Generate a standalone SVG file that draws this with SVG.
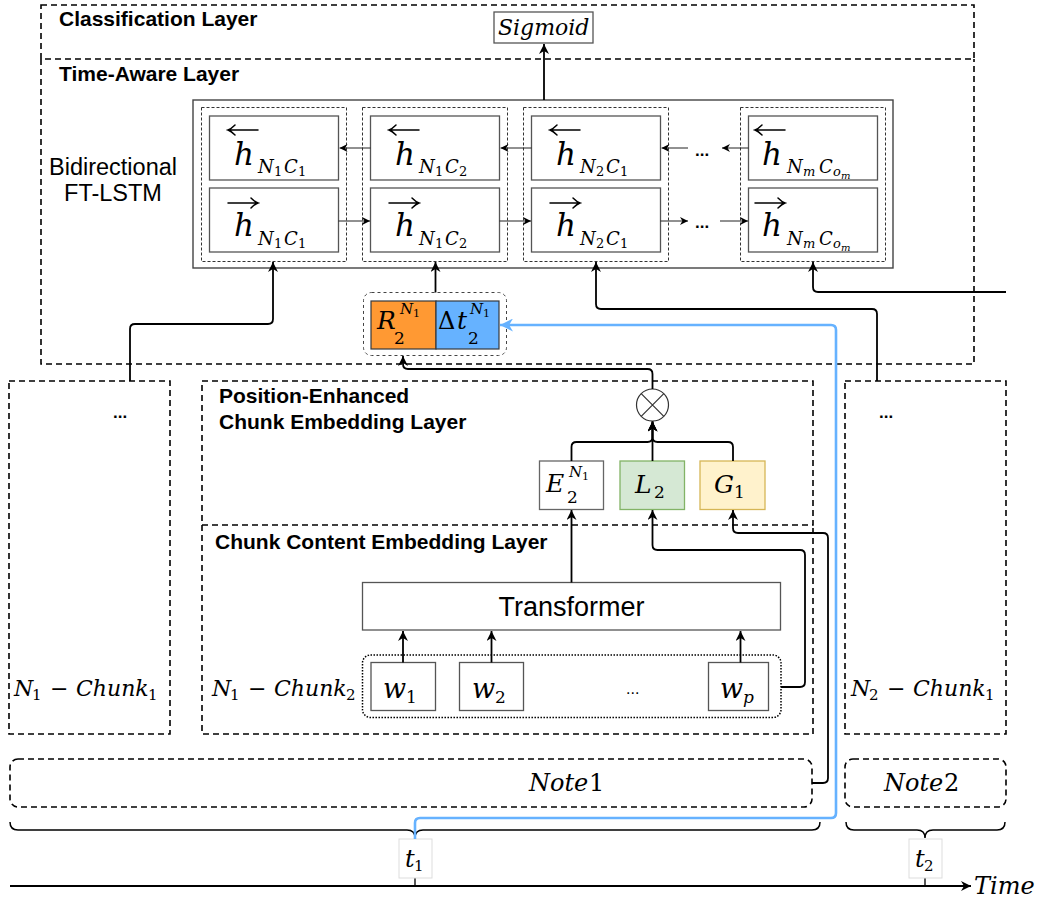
<svg xmlns="http://www.w3.org/2000/svg" width="1041" height="905" viewBox="0 0 1041 905">
<style>
  .layer { fill: none; stroke: #000; stroke-width: 1.6; stroke-dasharray: 6 4; }
  .grp { fill: none; stroke: #333; stroke-width: 1; stroke-dasharray: 3 2; }
  .cell { fill: #fff; stroke: #555; stroke-width: 1.3; }
  .box { fill: #fff; stroke: #555; stroke-width: 1.3; }
  .ttl { font-family: "Liberation Sans", Arial, sans-serif; font-weight: bold; font-size: 21px; fill: #000; }
  .sans { font-family: "Liberation Sans", Arial, sans-serif; fill: #000; }
  .m { font-family: "DejaVu Serif", "Liberation Serif", serif; font-style: italic; fill: #000; }
  .rm { font-family: "DejaVu Serif", "Liberation Serif", serif; font-style: normal; fill: #000; }
  .dots { font-family: "Liberation Sans", Arial, sans-serif; font-weight: bold; font-size: 17px; fill: #000; }
  .conn { fill: none; stroke: #000; stroke-width: 1.8; }
  .thin { fill: none; stroke: #222; stroke-width: 1; }
  .ovr { fill: none; stroke: #000; stroke-width: 1.5; stroke-linecap: round; }
  .blue { fill: none; stroke: #66B2FF; stroke-width: 2.6; }
</style>
<defs>
  <marker id="arr" viewBox="0 0 10 10" refX="10" refY="5" markerWidth="10" markerHeight="10" markerUnits="userSpaceOnUse" orient="auto">
    <path d="M0,0 L10,5 L0,10 L3,5 Z" fill="#000"/>
  </marker>
  <marker id="arrS" viewBox="0 0 10 10" refX="10" refY="5" markerWidth="8" markerHeight="8" markerUnits="userSpaceOnUse" orient="auto">
    <path d="M0,0 L10,5 L0,10 L3,5 Z" fill="#000"/>
  </marker>
  <marker id="arrB" viewBox="0 0 10 10" refX="10" refY="5" markerWidth="13" markerHeight="13" markerUnits="userSpaceOnUse" orient="auto">
    <path d="M0,0 L10,5 L0,10 L3,5 Z" fill="#66B2FF"/>
  </marker>
</defs>
<rect width="1041" height="905" fill="#fff"/>

<!-- layer frames (shared edges drawn once) -->
<g id="classification-layer">
  <rect class="layer" x="41" y="5" width="933" height="54"/>
  <text class="ttl" x="59" y="26">Classification Layer</text>
</g>
<g id="time-aware-layer">
  <path class="layer" d="M41,59 V364 H974 V59"/>
  <text class="ttl" x="59" y="81">Time-Aware Layer</text>
  <text class="sans" font-size="23.5" text-anchor="middle" x="113" y="175">Bidirectional</text>
  <text class="sans" font-size="23.5" text-anchor="middle" x="113" y="201">FT-LSTM</text>
</g>
<g id="position-enhanced-layer">
  <rect class="layer" x="202" y="381" width="611" height="144"/>
  <text class="ttl" x="219" y="403">Position-Enhanced</text>
  <text class="ttl" x="219" y="429">Chunk Embedding Layer</text>
</g>
<g id="chunk-content-layer">
  <path class="layer" d="M202,525 V734 H813 V525"/>
  <text class="ttl" x="215" y="549">Chunk Content Embedding Layer</text>
</g>

<!-- sigmoid -->
<g id="sigmoid">
  <rect class="box" x="494" y="12" width="99" height="31"/>
  <text class="m" font-size="22" x="498" y="35">Sigmoid</text>
</g>

<!-- FT-LSTM block -->
<g id="ft-lstm">
  <rect x="193" y="100" width="700" height="168" fill="#fff" stroke="#444" stroke-width="1.4"/>
  <rect class="grp" x="201.5" y="107.5" width="145" height="154"/>
  <rect class="grp" x="362.5" y="107.5" width="145" height="154"/>
  <rect class="grp" x="523.5" y="107.5" width="145" height="154"/>
  <rect class="grp" x="740.5" y="107.5" width="145" height="154"/>
</g>

<g id="cell-b-n1c1">
  <rect class="cell" x="209.5" y="116" width="129" height="64"/>
  <path class="ovr" d="M228,130 H258 M235,125 Q231,129 228,130 Q231,131 235,135"/>
  <text class="m" font-size="31" x="234" y="165">h</text>
  <text class="m" font-size="18" x="258" y="173">N</text><text class="rm" font-size="13" x="274" y="176">1</text>
  <text class="m" font-size="18" x="284" y="173">C</text><text class="rm" font-size="13" x="298" y="176">1</text>
</g>
<g id="cell-f-n1c1">
  <rect class="cell" x="209.5" y="188" width="129" height="64"/>
  <path class="ovr" d="M228,203 H258 M251,198 Q255,202 258,203 Q255,204 251,208"/>
  <text class="m" font-size="31" x="234" y="236">h</text>
  <text class="m" font-size="18" x="258" y="245">N</text><text class="rm" font-size="13" x="274" y="248">1</text>
  <text class="m" font-size="18" x="284" y="245">C</text><text class="rm" font-size="13" x="298" y="248">1</text>
</g>
<g id="cell-b-n1c2">
  <rect class="cell" x="370.5" y="116" width="129" height="64"/>
  <path class="ovr" d="M389,130 H419 M396,125 Q392,129 389,130 Q392,131 396,135"/>
  <text class="m" font-size="31" x="395" y="165">h</text>
  <text class="m" font-size="18" x="419" y="173">N</text><text class="rm" font-size="13" x="435" y="176">1</text>
  <text class="m" font-size="18" x="445" y="173">C</text><text class="rm" font-size="13" x="459" y="176">2</text>
</g>
<g id="cell-f-n1c2">
  <rect class="cell" x="370.5" y="188" width="129" height="64"/>
  <path class="ovr" d="M389,203 H419 M412,198 Q416,202 419,203 Q416,204 412,208"/>
  <text class="m" font-size="31" x="395" y="236">h</text>
  <text class="m" font-size="18" x="419" y="245">N</text><text class="rm" font-size="13" x="435" y="248">1</text>
  <text class="m" font-size="18" x="445" y="245">C</text><text class="rm" font-size="13" x="459" y="248">2</text>
</g>
<g id="cell-b-n2c1">
  <rect class="cell" x="531.5" y="116" width="129" height="64"/>
  <path class="ovr" d="M550,130 H580 M557,125 Q553,129 550,130 Q553,131 557,135"/>
  <text class="m" font-size="31" x="556" y="165">h</text>
  <text class="m" font-size="18" x="580" y="173">N</text><text class="rm" font-size="13" x="596" y="176">2</text>
  <text class="m" font-size="18" x="606" y="173">C</text><text class="rm" font-size="13" x="620" y="176">1</text>
</g>
<g id="cell-f-n2c1">
  <rect class="cell" x="531.5" y="188" width="129" height="64"/>
  <path class="ovr" d="M550,203 H580 M573,198 Q577,202 580,203 Q577,204 573,208"/>
  <text class="m" font-size="31" x="556" y="236">h</text>
  <text class="m" font-size="18" x="580" y="245">N</text><text class="rm" font-size="13" x="596" y="248">2</text>
  <text class="m" font-size="18" x="606" y="245">C</text><text class="rm" font-size="13" x="620" y="248">1</text>
</g>
<g id="cell-b-nmcom">
  <rect class="cell" x="748.5" y="116" width="129" height="64"/>
  <path class="ovr" d="M755,130 H785 M762,125 Q758,129 755,130 Q758,131 762,135"/>
  <text class="m" font-size="31" x="762" y="165">h</text>
  <text class="m" font-size="18" x="787" y="173">N</text><text class="m" font-size="13" x="803" y="176">m</text>
  <text class="m" font-size="18" x="819" y="173">C</text><text class="m" font-size="13" x="833" y="176">o</text><text class="m" font-size="10" x="841" y="179">m</text>
</g>
<g id="cell-f-nmcom">
  <rect class="cell" x="748.5" y="188" width="129" height="64"/>
  <path class="ovr" d="M755,203 H785 M778,198 Q782,202 785,203 Q782,204 778,208"/>
  <text class="m" font-size="31" x="762" y="236">h</text>
  <text class="m" font-size="18" x="787" y="245">N</text><text class="m" font-size="13" x="803" y="248">m</text>
  <text class="m" font-size="18" x="819" y="245">C</text><text class="m" font-size="13" x="833" y="248">o</text><text class="m" font-size="10" x="841" y="251">m</text>
</g>
<g id="lstm-ellipsis">
  <text class="dots" x="695" y="156">...</text>
  <text class="dots" x="695" y="228">...</text>
</g>

<!-- recency / time-gap pair -->
<g id="r-delta">
  <rect x="363.5" y="292.5" width="143" height="63" rx="8" fill="none" stroke="#444" stroke-width="1" stroke-dasharray="3 3"/>
  <rect x="371" y="301" width="65" height="48" fill="#FF9933" stroke="#36393d" stroke-width="1.2"/>
  <rect x="436" y="301" width="63" height="48" fill="#66B2FF" stroke="#36393d" stroke-width="1.2"/>
  <text class="m" font-size="25" x="377" y="329">R</text>
  <text class="m" font-size="15" x="400" y="314">N</text><text class="rm" font-size="11" x="413" y="317">1</text>
  <text class="rm" font-size="17" x="394" y="344">2</text>
  <text class="rm" font-size="24" x="438" y="329">Δ</text>
  <text class="m" font-size="25" x="457" y="329">t</text>
  <text class="m" font-size="15" x="470" y="314">N</text><text class="rm" font-size="11" x="483" y="317">1</text>
  <text class="rm" font-size="17" x="468" y="344">2</text>
</g>

<!-- product node -->
<g id="product">
  <circle cx="652.5" cy="405" r="16" fill="#fff" stroke="#333" stroke-width="1.2"/>
  <path d="M641.2,393.7 L663.8,416.3 M663.8,393.7 L641.2,416.3" stroke="#333" stroke-width="1.2"/>
</g>

<g id="e-box">
  <rect x="539.5" y="461" width="64" height="48.5" fill="#fff" stroke="#666" stroke-width="1.3"/>
  <text class="m" font-size="25" x="546" y="492">E</text>
  <text class="m" font-size="15" x="569" y="477">N</text><text class="rm" font-size="11" x="582" y="480">1</text>
  <text class="rm" font-size="17" x="567" y="503">2</text>
</g>
<g id="l-box">
  <rect x="620" y="461" width="64.5" height="48.5" fill="#d5e8d4" stroke="#82b366" stroke-width="1.3"/>
  <text class="m" font-size="25" x="635" y="493">L</text>
  <text class="rm" font-size="17" x="654" y="498">2</text>
</g>
<g id="g-box">
  <rect x="700" y="461" width="65" height="48.5" fill="#fff2cc" stroke="#d6b656" stroke-width="1.3"/>
  <text class="m" font-size="25" x="714" y="493">G</text>
  <text class="rm" font-size="17" x="734" y="498">1</text>
</g>

<g id="transformer">
  <rect class="box" x="362.5" y="582.5" width="418" height="47.5"/>
  <text class="sans" font-size="27" text-anchor="middle" x="571.5" y="616">Transformer</text>
</g>

<g id="chunk-words">
  <rect x="362.5" y="655" width="418.5" height="62.5" rx="8" fill="none" stroke="#000" stroke-width="1.5" stroke-dasharray="1.5 1.5"/>
</g>
<g id="w1">
  <rect class="box" x="371" y="662.5" width="64.5" height="48"/>
  <text class="m" font-size="27" x="383" y="698">w</text><text class="rm" font-size="17" x="406" y="703">1</text>
</g>
<g id="w2">
  <rect class="box" x="459.5" y="662.5" width="64" height="48"/>
  <text class="m" font-size="27" x="472" y="698">w</text><text class="rm" font-size="17" x="495" y="703">2</text>
</g>
<text class="sans" font-size="16" x="626" y="694" fill="#333">...</text>
<g id="wp">
  <rect class="box" x="708.5" y="662.5" width="60" height="48"/>
  <text class="m" font-size="27" x="720" y="698">w</text><text class="m" font-size="17" x="743" y="703">p</text>
</g>

<!-- chunk frames -->
<g id="n1-chunk1">
  <rect class="layer" x="9" y="381" width="161" height="353"/>
  <text class="dots" x="113" y="418">...</text>
  <text class="m" font-size="22" x="14" y="696">N</text><text class="rm" font-size="15" x="32" y="700">1</text>
  <text class="rm" font-size="22" x="50" y="696">−</text>
  <text class="m" font-size="22" x="76" y="696">Chunk</text><text class="rm" font-size="15" x="148" y="700">1</text>
</g>
<g id="n1-chunk2">
  <text class="m" font-size="22" x="212" y="696">N</text><text class="rm" font-size="15" x="230" y="700">1</text>
  <text class="rm" font-size="22" x="248" y="696">−</text>
  <text class="m" font-size="22" x="274" y="696">Chunk</text><text class="rm" font-size="15" x="346" y="700">2</text>
</g>
<g id="n2-chunk1">
  <rect class="layer" x="845" y="381" width="161" height="353"/>
  <text class="dots" x="879" y="418">...</text>
  <text class="m" font-size="22" x="851" y="696">N</text><text class="rm" font-size="15" x="869" y="700">2</text>
  <text class="rm" font-size="22" x="887" y="696">−</text>
  <text class="m" font-size="22" x="913" y="696">Chunk</text><text class="rm" font-size="15" x="985" y="700">1</text>
</g>

<!-- notes -->
<g id="note1">
  <rect x="10" y="759" width="802" height="48" rx="8" fill="none" stroke="#000" stroke-width="1.6" stroke-dasharray="6 4"/>
  <text class="m" font-size="24" x="529" y="791">Note</text><text class="rm" font-size="24" x="589" y="791">1</text>
</g>
<g id="note2">
  <rect x="845" y="759" width="161" height="48" rx="8" fill="none" stroke="#000" stroke-width="1.6" stroke-dasharray="6 4"/>
  <text class="m" font-size="24" x="884" y="791">Note</text><text class="rm" font-size="24" x="944" y="791">2</text>
</g>

<!-- time axis -->
<g id="timeline">
  <path d="M10,822 Q10,830 18,830 H407 Q415,830 415,838 Q415,830 423,830 H812 Q820,830 820,822" fill="none" stroke="#000" stroke-width="1.5"/>
  <path d="M846,822 Q846,830 854,830 H917 Q925,830 925,838 Q925,830 933,830 H997 Q1005,830 1005,822" fill="none" stroke="#000" stroke-width="1.5"/>
  <path d="M10,886 H971" fill="none" stroke="#000" stroke-width="1.8" marker-end="url(#arr)"/>
  <path d="M415,878 V886 M925,878 V886" stroke="#000" stroke-width="1.3"/>
  <text class="m" font-size="24" x="974" y="894">Time</text>
</g>
<g id="t1">
  <rect x="399" y="839" width="33" height="39" fill="#fff" stroke="#ddd" stroke-width="1"/>
  <text class="m" font-size="24" x="405" y="867">t</text><text class="rm" font-size="15" x="414" y="871">1</text>
</g>
<g id="t2">
  <rect x="909" y="839" width="33" height="39" fill="#fff" stroke="#ddd" stroke-width="1"/>
  <text class="m" font-size="24" x="915" y="867">t</text><text class="rm" font-size="15" x="924" y="871">2</text>
</g>

<!-- connectors -->
<g id="connectors">
  <path class="conn" d="M544,100 V44" marker-end="url(#arr)"/>
  <path class="thin" d="M370.5,148 H339.5" marker-end="url(#arrS)"/>
  <path class="thin" d="M531.5,148 H500.5" marker-end="url(#arrS)"/>
  <path class="thin" d="M688,148 H661.5" marker-end="url(#arrS)"/>
  <path class="thin" d="M748.5,148 H722" marker-end="url(#arrS)"/>
  <path class="thin" d="M338.5,221 H370" marker-end="url(#arrS)"/>
  <path class="thin" d="M499.5,221 H531" marker-end="url(#arrS)"/>
  <path class="thin" d="M660.5,221 H688" marker-end="url(#arrS)"/>
  <path class="thin" d="M720,221 H748" marker-end="url(#arrS)"/>
  <path class="conn" d="M130,381 V329 Q130,324 135,324 H268 Q273,324 273,319 V262" marker-end="url(#arr)"/>
  <path class="conn" d="M435.5,292.5 V262" marker-end="url(#arr)"/>
  <path class="conn" d="M877,381 V314 Q877,309 872,309 H601 Q596,309 596,304 V262" marker-end="url(#arr)"/>
  <path class="conn" d="M1006,292 H818 Q813,292 813,287 V262" marker-end="url(#arr)"/>
  <path class="conn" d="M652.5,389 V374 Q652.5,369 647.5,369 H408 Q403,369 403,364 V356" marker-end="url(#arr)"/>
  <path class="conn" d="M571.5,461 V447 Q571.5,442 576.5,442 H647.5 Q652.5,442 652.5,437 V421.5" marker-end="url(#arr)"/>
  <path class="conn" d="M733,461 V447 Q733,442 728,442 H657.5 Q652.5,442 652.5,437 V421.5" marker-end="url(#arr)"/>
  <path class="conn" d="M652.5,461 V421.5" marker-end="url(#arr)"/>
  <path class="conn" d="M571.5,582.5 V510" marker-end="url(#arr)"/>
  <path class="conn" d="M403,662.5 V631" marker-end="url(#arr)"/>
  <path class="conn" d="M491.5,662.5 V631" marker-end="url(#arr)"/>
  <path class="conn" d="M740.5,662.5 V631" marker-end="url(#arr)"/>
  <path class="conn" d="M781,687 H800 Q805,687 805,682 V555 Q805,550 800,550 H657.5 Q652.5,550 652.5,545 V510" marker-end="url(#arr)"/>
  <path class="conn" d="M812,783 H823 Q828,783 828,778 V538 Q828,533 823,533 H738 Q733,533 733,528 V510" marker-end="url(#arr)"/>
  <path class="blue" d="M415,839 V823 Q415,818 420,818 H831 Q836,818 836,813 V330 Q836,325 831,325 H500" marker-end="url(#arrB)"/>
</g>
</svg>
